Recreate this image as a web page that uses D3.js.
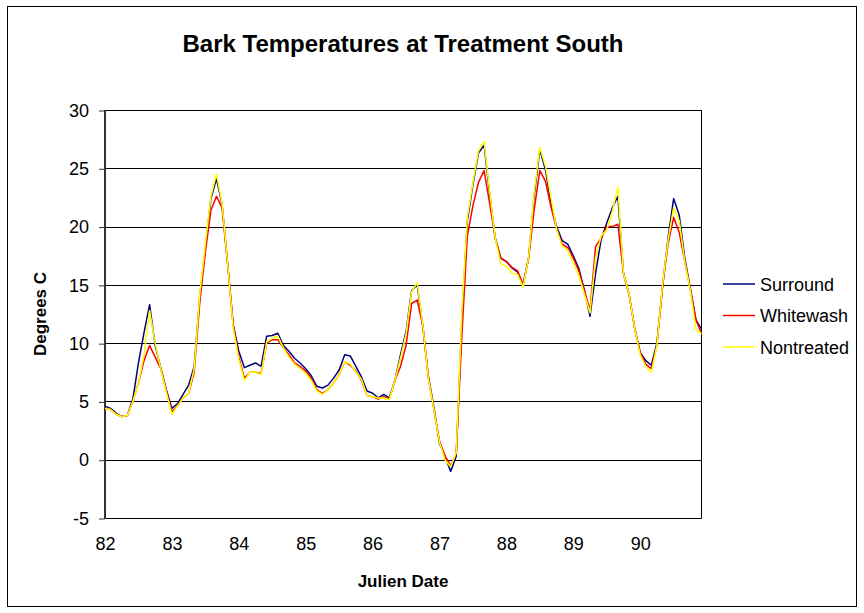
<!DOCTYPE html>
<html>
<head>
<meta charset="utf-8">
<script src="https://cdn.jsdelivr.net/npm/d3@7"></script>
<style>
  body { margin: 0; background: #fff; }
  svg { display: block; font-family: Arial, "Liberation Sans", sans-serif; }
</style>
</head>
<body>
<svg id="chart"></svg>
<script>
// readings every 2 hours, starting at day 82
var startDay = 82;
var stepDay = 1 / 12;
var dayTicks = [82, 83, 84, 85, 86, 87, 88, 89, 90];
var tempTicks = [-5, 0, 5, 10, 15, 20, 25, 30];
var seriesNames = ["Surround", "Whitewash", "Nontreated"];
var seriesColors = ["#000080", "#ff0000", "#ffff00"];

var surround = [
  4.6, 4.4, 4.0, 3.7, 3.8, 5.2, 8.3, 10.9, 13.3, 9.8,
  7.9, 6.0, 4.4, 4.8, 5.6, 6.4, 8.0, 14.0, 18.2, 22.4,
  24.1, 21.9, 16.8, 11.6, 9.3, 7.9, 8.1, 8.3, 8.0, 10.6,
  10.65, 10.85, 9.8, 9.3, 8.7, 8.3, 7.8, 7.2, 6.3, 6.15,
  6.4, 7.0, 7.7, 9.0, 8.9, 8.0, 7.1, 5.9, 5.7, 5.3,
  5.6, 5.3, 6.8, 9.0, 11.0, 14.5, 15.0, 11.5, 7.2, 4.5,
  1.4, 0.3, -1.0, 0.3, 11.9, 20.5, 23.6, 26.3, 27.0, 22.8,
  19.0, 17.3, 17.0, 16.45, 16.1, 15.0, 17.4, 22.7, 26.6, 24.9,
  22.0, 20.0, 18.8, 18.5, 17.5, 16.4, 14.5, 12.3, 16.0, 18.9,
  20.3, 21.6, 22.6, 16.0, 14.2, 11.3, 9.2, 8.5, 8.1, 10.0,
  14.8, 19.0, 22.4, 21.0, 17.3, 14.7, 12.0, 11.2
];

var whitewash = [
  4.4, 4.3, 3.9, 3.7, 3.8, 5.0, 6.6, 8.5, 9.8, 8.8,
  7.8, 5.9, 4.1, 4.6, 5.3, 5.7, 7.5, 13.5, 17.8, 21.4,
  22.6, 21.6, 16.8, 11.5, 8.8, 7.0, 7.5, 7.5, 7.4, 10.0,
  10.3, 10.3, 9.6, 9.0, 8.3, 8.0, 7.6, 7.0, 6.0, 5.7,
  6.0, 6.6, 7.3, 8.4, 8.1, 7.6, 6.8, 5.5, 5.4, 5.2,
  5.4, 5.2, 6.8, 8.0, 9.8, 13.4, 13.7, 11.5, 7.0, 4.3,
  1.6, 0.3, -0.5, 0.5, 10.5, 19.2, 21.8, 23.8, 24.8, 22.0,
  19.0, 17.3, 17.0, 16.5, 16.2, 15.0, 17.3, 21.5, 24.8, 23.9,
  21.7, 19.8, 18.5, 18.2, 17.3, 16.2, 14.5, 12.8, 18.3, 19.0,
  20.0, 20.0, 20.2, 16.0, 14.2, 11.3, 9.2, 8.2, 7.8, 9.8,
  14.8, 18.5, 20.8, 19.5, 17.0, 14.6, 12.0, 10.8
];

var nontreated = [
  4.4, 4.3, 3.9, 3.7, 3.8, 5.0, 6.6, 9.0, 12.8, 10.0,
  7.8, 5.8, 3.9, 4.6, 5.3, 5.7, 7.8, 14.2, 18.5, 22.6,
  24.5, 22.0, 16.8, 11.3, 8.6, 6.8, 7.5, 7.5, 7.3, 10.1,
  10.4, 10.6, 9.6, 8.8, 8.2, 7.8, 7.4, 6.8, 5.9, 5.6,
  6.0, 6.6, 7.3, 8.4, 8.2, 7.5, 6.9, 5.5, 5.4, 5.3,
  5.3, 5.15, 6.8, 8.7, 10.8, 14.4, 15.2, 11.6, 7.0, 4.3,
  1.5, 0.0, -0.6, 0.6, 12.5, 20.8, 23.8, 26.5, 27.3, 23.0,
  19.0, 16.8, 16.6, 16.0, 15.9, 14.8, 17.4, 23.0, 26.8, 25.2,
  22.5, 19.8, 18.3, 18.0, 16.9, 15.8, 14.2, 12.6, 17.3, 19.2,
  19.7, 21.3, 23.4, 16.0, 14.2, 11.3, 9.0, 8.0, 7.5, 9.8,
  15.0, 18.8, 21.6, 20.5, 17.0, 14.5, 11.2, 10.8
];

var seriesValues = [surround, whitewash, nontreated];

var width = 864, height = 613;
var plotLeft = 105, plotRight = 701.5, plotTop = 110, plotBottom = 518;

var svg = d3.select("#chart")
  .attr("width", width)
  .attr("height", height);

// outer frame
svg.append("rect")
  .attr("x", 7.5).attr("y", 6.5)
  .attr("width", 849).attr("height", 600)
  .attr("fill", "#fff")
  .attr("stroke", "#000")
  .attr("stroke-width", 1);

var lastDay = startDay + (surround.length - 1) * stepDay;

var x = d3.scaleLinear()
  .domain([startDay, lastDay])
  .range([plotLeft, plotRight]);

var y = d3.scaleLinear()
  .domain([-5, 30])
  .range([plotBottom, plotTop]);

// horizontal gridlines
svg.append("g")
  .selectAll("line")
  .data(tempTicks)
  .enter().append("line")
  .attr("x1", plotLeft).attr("x2", plotRight)
  .attr("y1", d => Math.round(y(d)) + 0.5)
  .attr("y2", d => Math.round(y(d)) + 0.5)
  .attr("stroke", "#000")
  .attr("stroke-width", 1);

// right border of plot
svg.append("line")
  .attr("x1", plotRight).attr("x2", plotRight)
  .attr("y1", plotTop).attr("y2", plotBottom + 0.5)
  .attr("stroke", "#000");

// y axis
var yAxis = d3.axisLeft(y)
  .tickValues(tempTicks)
  .tickSize(6)
  .tickPadding(10)
  .tickFormat(d => String(d));

var yAxisG = svg.append("g")
  .attr("transform", "translate(" + plotLeft + ",0.5)")
  .call(yAxis);
yAxisG.select(".domain").remove();
yAxisG.selectAll(".tick line").attr("stroke", "#333");
yAxisG.selectAll("text")
  .attr("font-size", 18)
  .attr("fill", "#000")
  .style("font-family", "Arial, 'Liberation Sans', sans-serif");

svg.append("line")
  .attr("x1", plotLeft).attr("x2", plotLeft)
  .attr("y1", plotTop).attr("y2", plotBottom + 1)
  .attr("stroke", "#333")
  .attr("stroke-width", 2);

// x axis labels
var xAxis = d3.axisBottom(x)
  .tickValues(dayTicks)
  .tickSize(0)
  .tickPadding(19)
  .tickFormat(d => String(d));

var xAxisG = svg.append("g")
  .attr("transform", "translate(0," + plotBottom + ")")
  .call(xAxis);
xAxisG.select(".domain").remove();
xAxisG.selectAll("text")
  .attr("font-size", 18)
  .attr("fill", "#000")
  .style("font-family", "Arial, 'Liberation Sans', sans-serif");

// series lines
var line = d3.line()
  .x((d, i) => x(startDay + i * stepDay))
  .y(d => y(d));

svg.append("g")
  .selectAll("path")
  .data(seriesValues)
  .enter().append("path")
  .attr("d", d => line(d))
  .attr("fill", "none")
  .attr("stroke", (d, i) => seriesColors[i])
  .attr("stroke-width", 1.5)
  .attr("stroke-linejoin", "round");

// title
svg.append("text")
  .attr("x", 403).attr("y", 52)
  .attr("text-anchor", "middle")
  .attr("font-size", 24)
  .attr("font-weight", "bold")
  .text("Bark Temperatures at Treatment South");

// axis titles
svg.append("text")
  .attr("transform", "translate(46,314) rotate(-90)")
  .attr("text-anchor", "middle")
  .attr("font-size", 17)
  .attr("font-weight", "bold")
  .text("Degrees C");

svg.append("text")
  .attr("x", 403).attr("y", 587)
  .attr("text-anchor", "middle")
  .attr("font-size", 17)
  .attr("font-weight", "bold")
  .text("Julien Date");

// legend
var legend = svg.append("g")
  .selectAll("g")
  .data(seriesNames)
  .enter().append("g")
  .attr("transform", (d, i) => "translate(723," + (284 + i * 31.5) + ")");

legend.append("line")
  .attr("x1", 0).attr("x2", 32)
  .attr("y1", 0).attr("y2", 0)
  .attr("stroke", (d, i) => seriesColors[i])
  .attr("stroke-width", 1.5);

legend.append("text")
  .attr("x", 37).attr("y", 6.5)
  .attr("font-size", 18)
  .text(d => d);
</script>
</body>
</html>
